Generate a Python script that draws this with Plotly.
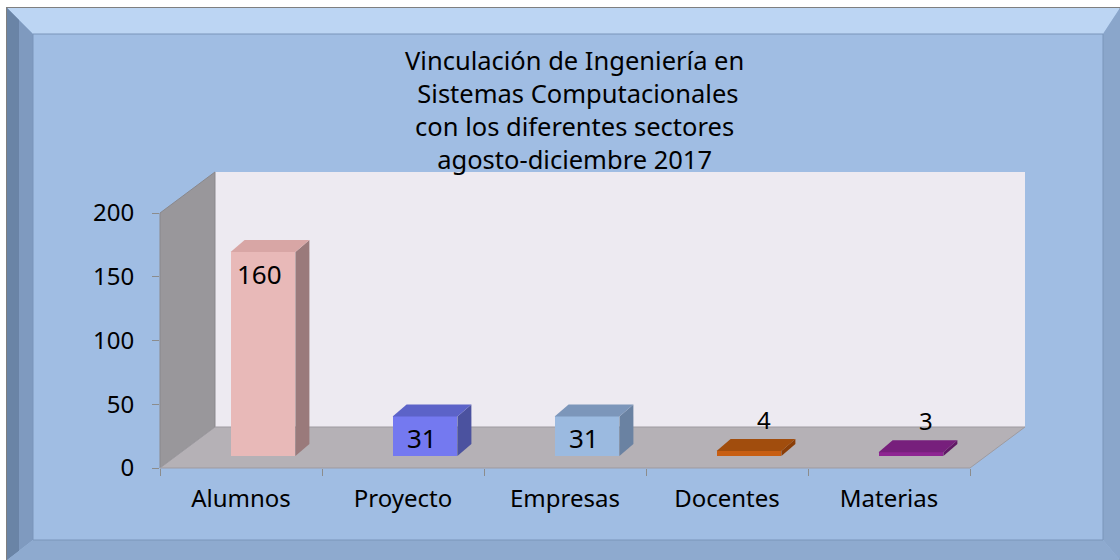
import plotly.graph_objects as go

# ---- data ----
categories = ["Alumnos", "Proyecto", "Empresas", "Docentes", "Materias"]
values = [160, 31, 31, 4, 3]
y_ticks = [0, 50, 100, 150, 200]
title_lines = ["Vinculación de Ingeniería en", " Sistemas Computacionales",
               "con los diferentes sectores", "agosto-diciembre 2017"]

front_colors = ["#E8B9B8", "#7479F0", "#9BBAE0", "#C85E12", "#8E2592"]
side_colors = ["#9A7A7B", "#4B529F", "#6A82A2", "#8A3E08", "#601865"]
top_colors = ["#D8A6A5", "#5C63C8", "#7C96BA", "#A14D0D", "#771F7C"]

W, H = 1120, 560
FONT = "Noto Sans"


def px(x, y):
    return x / W, 1 - y / H


def path(points):
    pts = [px(x, y) for x, y in points]
    return "M " + " L ".join(f"{a:.5f},{b:.5f}" for a, b in pts) + " Z"


# pixel geometry of the 3D box (front plane and depth offset)
X0, X1 = 160, 970
Y0, Y200 = 468, 213
DX, DY = 55, -41
BX, BY = 22, -12

shapes = []
# frame
shapes.append(dict(type="rect", xref="paper", yref="paper", x0=7/W, x1=1, y0=0, y1=1-8/H,
                   fillcolor="#9DBAE0", line=dict(color="#7F7F7F", width=2), layer="below"))
shapes.append(dict(type="path", xref="paper", yref="paper",
                   path=path([(7, 8), (1120, 8), (1103, 34), (33, 34)]),
                   fillcolor="#BCD5F3", line=dict(width=0), layer="below"))
shapes.append(dict(type="path", xref="paper", yref="paper",
                   path=path([(7, 8), (33, 34), (33, 540), (7, 560)]),
                   fillcolor="#7F9ABF", line=dict(width=0), layer="below"))
shapes.append(dict(type="path", xref="paper", yref="paper",
                   path=path([(7, 8), (19, 20), (19, 551), (7, 560)]),
                   fillcolor="#6A84A6", line=dict(width=0), layer="below"))
shapes.append(dict(type="path", xref="paper", yref="paper",
                   path=path([(1120, 8), (1103, 34), (1103, 540), (1120, 560)]),
                   fillcolor="#8AA6CB", line=dict(width=0), layer="below"))
shapes.append(dict(type="path", xref="paper", yref="paper",
                   path=path([(7, 560), (33, 540), (1103, 540), (1120, 560)]),
                   fillcolor="#8EAACF", line=dict(width=0), layer="below"))
shapes.append(dict(type="rect", xref="paper", yref="paper",
                   x0=33/W, x1=1103/W, y0=1-540/H, y1=1-34/H,
                   fillcolor="#A0BDE3", line=dict(color="#7A95BA", width=1), layer="below"))
# walls
shapes.append(dict(type="path", xref="paper", yref="paper",
                   path=path([(X0 + DX, Y200 + DY), (X1 + DX, Y200 + DY), (X1 + DX, Y0 + DY), (X0 + DX, Y0 + DY)]),
                   fillcolor="#EDEAF1", line=dict(width=0), layer="below"))
shapes.append(dict(type="path", xref="paper", yref="paper",
                   path=path([(X0, Y200), (X0 + DX, Y200 + DY), (X0 + DX, Y0 + DY), (X0, Y0)]),
                   fillcolor="#99979B", line=dict(color="#8A888C", width=1), layer="below"))
shapes.append(dict(type="path", xref="paper", yref="paper",
                   path=path([(X0, Y0), (X0 + DX, Y0 + DY), (X1 + DX, Y0 + DY), (X1, Y0)]),
                   fillcolor="#B5B1B6", line=dict(color="#9E9BA0", width=1), layer="below"))

fig = go.Figure()

# invisible trace to establish the front category axis
fig.add_trace(go.Scatter(x=categories, y=[0] * len(categories), mode="markers",
                         marker=dict(opacity=0), hoverinfo="skip", showlegend=False,
                         xaxis="x", yaxis="y"))

idx = list(range(len(categories)))
half = 0.2
ddx = 14 / ((X1 - X0) / len(categories))
ddy = 12 / ((Y0 - Y200) / 200)

# side and top faces of each bar, computed from the data
for i, v in zip(idx, values):
    xs = [i + half, i + half + ddx, i + half + ddx, i + half, i + half]
    ys = [0, ddy, v + ddy, v, 0]
    fig.add_trace(go.Scatter(x=xs, y=ys, fill="toself", fillcolor=side_colors[i], mode="lines",
                             line=dict(width=0), hoverinfo="skip", showlegend=False,
                             xaxis="x2", yaxis="y2"))
    xt = [i - half, i + half, i + half + ddx, i - half + ddx, i - half]
    yt = [v, v, v + ddy, v + ddy, v]
    fig.add_trace(go.Scatter(x=xt, y=yt, fill="toself", fillcolor=top_colors[i], mode="lines",
                             line=dict(width=0), hoverinfo="skip", showlegend=False,
                             xaxis="x2", yaxis="y2"))

fig.add_trace(go.Bar(x=idx, y=values, width=0.4, marker=dict(color=front_colors, line=dict(width=0)),
                     showlegend=False, xaxis="x2", yaxis="y2"))

annotations = []
for i, v in zip(idx, values):
    if v > 20:
        annotations.append(dict(x=i - 0.02, y=v - 17, xref="x2", yref="y2", text=str(v), showarrow=False,
                                font=dict(family=FONT, size=26, color="black")))
    else:
        annotations.append(dict(x=i + 0.09, y=v + 25, xref="x2", yref="y2", text=str(v), showarrow=False,
                                font=dict(family=FONT, size=24, color="black")))

annotations.append(dict(x=574/W, y=1 - 110/H, xref="paper", yref="paper", showarrow=False,
                        xanchor="center", yanchor="middle",
                        text="<br>".join(title_lines), align="center",
                        font=dict(family=FONT, size=25.5, color="black")))

fig.update_layout(
    width=W, height=H, margin=dict(l=0, r=0, t=0, b=0, autoexpand=False),
    paper_bgcolor="white", plot_bgcolor="rgba(0,0,0,0)",
    shapes=shapes, annotations=annotations,
    xaxis=dict(domain=[X0 / W, X1 / W], type="category", categoryorder="array", categoryarray=categories,
               range=[-0.5, len(categories) - 0.5], tickson="boundaries", ticks="outside", ticklen=7,
               tickcolor="#8C8C8C", showline=False, showgrid=False, zeroline=False, automargin=False,
               tickfont=dict(family=FONT, size=24, color="black"), ticklabelstandoff=14, anchor="y"),
    yaxis=dict(domain=[1 - Y0 / H, 1 - Y200 / H], range=[0, 200], tickvals=y_ticks,
               ticks="outside", ticklen=7, tickcolor="#8C8C8C", showline=False, showgrid=False,
               zeroline=False, automargin=False, tickfont=dict(family=FONT, size=24, color="black"),
               ticklabelstandoff=13, anchor="x"),
    xaxis2=dict(domain=[(X0 + BX) / W, (X1 + BX) / W], range=[-0.5, len(categories) - 0.5],
                visible=False, anchor="y2", automargin=False),
    yaxis2=dict(domain=[1 - (Y0 + BY) / H, 1 - (Y200 + BY) / H], range=[0, 200],
                visible=False, anchor="x2", automargin=False),
    bargap=0,
)

js = "document.body.style.margin='0'; document.body.style.overflow='hidden';"
fig.write_html("out.html", post_script=js, config={"displayModeBar": False})
